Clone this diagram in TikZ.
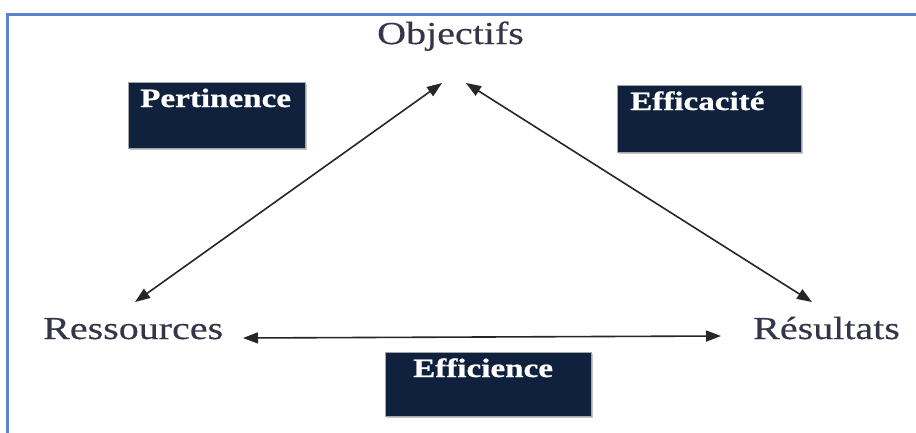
\documentclass[tikz,border=0pt]{standalone}
\usepackage{fontspec}
\setmainfont{Liberation Serif}
\newfontfamily\lblfont[FakeStretch=1.25,FakeBold=0.4]{Liberation Serif}
\newfontfamily\boxfont[FakeStretch=1.25,FakeBold=0.8,Ligatures=NoCommon]{Liberation Serif Bold}
\usetikzlibrary{arrows.meta,shadows}
\definecolor{navy}{HTML}{0F213D}
\definecolor{framec}{HTML}{5B84CF}
\definecolor{txtc}{HTML}{35354A}
\tikzset{
  lbl/.style={anchor=base west, inner sep=0pt, text=txtc, font=\lblfont\fontsize{32}{36}\selectfont},
  darkbox/.style={fill=navy, draw=gray!70, line width=0.8pt,
     drop shadow={shadow xshift=2pt, shadow yshift=-2pt, opacity=0.45}},
  boxtxt/.style={anchor=base west, inner sep=0pt, text=white, font=\boxfont\fontsize{26.5}{30}\selectfont},
  link/.style={{Triangle[length=15pt,width=11pt]}-{Triangle[length=15pt,width=11pt]}, line width=1.6pt, black!85}
}
\begin{document}
\begin{tikzpicture}[x=1pt,y=-1pt]
\useasboundingbox (0,0) rectangle (916,432);
% frame
\draw[framec, line width=3pt] (7.5,445) -- (7.5,14.5) -- (930,14.5);
% boxes
\node[darkbox, minimum width=177pt, minimum height=66pt, inner sep=0pt] (pbox) at (216.5,115) {};
\node[darkbox, minimum width=184pt, minimum height=67pt, inner sep=0pt] (cbox) at (709,118.5) {};
\node[darkbox, minimum width=206pt, minimum height=64pt, inner sep=0pt] (ebox) at (488,384) {};
\node[boxtxt] (ptxt) at (140,107) {Pertinence};
\node[boxtxt] (ctxt) at (630,110) {Efficacité};
\node[boxtxt] (etxt) at (413,377) {Efficience};
% labels
\node[lbl] (obj) at (377,44) {Objectifs};
\node[lbl] (res) at (43,339) {Ressources};
\node[lbl] (rst) at (753,339) {Résultats};
% arrow ends
\coordinate (objL) at (442,83);
\coordinate (objR) at (466,83);
\coordinate (resT) at (135,302);
\coordinate (resR) at (243,338);
\coordinate (rstT) at (812,302);
\coordinate (rstL) at (721,336);
\draw[link] (resT) -- (objL);
\draw[link] (objR) -- (rstT);
\draw[link] (resR) -- (rstL);
\end{tikzpicture}
\end{document}
